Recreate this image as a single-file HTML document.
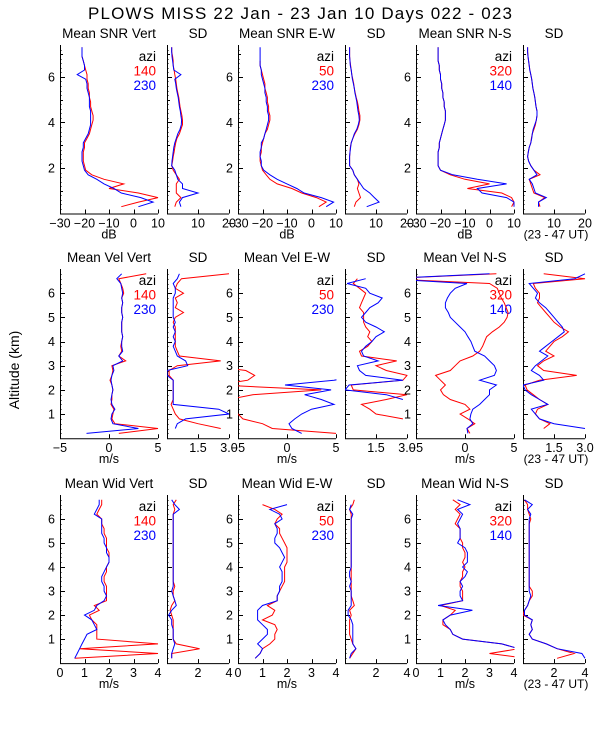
<!DOCTYPE html>
<html><head><meta charset="utf-8">
<style>
html,body{margin:0;padding:0;background:#fff;}
svg{display:block;font-family:"Liberation Sans",sans-serif;}
text{fill:#000;}
</style></head>
<body>
<svg id="c" width="600" height="750" viewBox="0 0 600 750">
<text x="88" y="19" font-size="17" textLength="424" lengthAdjust="spacing">PLOWS MISS  22 Jan - 23 Jan 10 Days 022 - 023</text>
<text transform="translate(19,370) rotate(-90)" font-size="14" text-anchor="middle">Altitude (km)</text>
</svg>
<script>
// altitude grids
const alt1 = [7.3,7.1,6.9,6.7,6.5,6.3,6.1,5.9,5.7,5.5,5.3,5.1,4.9,4.7,4.5,4.3,4.1,3.9,3.7,3.5,3.3,3.1,2.9,2.7,2.5,2.3,2.1,1.9,1.7,1.5,1.3,1.1,0.9,0.7,0.5,0.3];
const alt23 = [6.8,6.6,6.4,6.2,6.0,5.8,5.6,5.4,5.2,5.0,4.8,4.6,4.4,4.2,4.0,3.8,3.6,3.4,3.2,3.0,2.8,2.6,2.4,2.2,2.0,1.8,1.6,1.4,1.2,1.0,0.8,0.6,0.4,0.2];
const N = NaN;
// row 1: SNR
const snrVertRed = [-21,-21,-21,-20.5,-20,-19.5,-19,-19,-18.5,-18.5,-18,-18,-17.5,-17.5,-17,-16.5,-16.5,-17,-17.5,-18,-19,-20,-20,-20.5,-20.5,-20.5,-20,-19.5,-17,-12,-4,-10,2,10,2,-5];
const snrVertBlue = [-21,-21,-21,-20.5,-20,-20,-23,-19.5,-19,-19,-18.5,-18,-18,-18,-17.5,-17.5,-17.5,-17.5,-18,-18.5,-19.5,-20.5,-20.5,-21,-21,-21,-20.5,-20,-18.5,-15,-12,-8,-5,3,8,2];
const snrVertSdRed = [1.5,1.5,1.8,2,2,2.3,2.5,2.8,3,3.2,3.5,3.8,4,4.2,4.5,4.8,5,5,4.5,4,3.2,2.8,2.5,2.3,2,1.8,1.5,2,3,4,3,3,3,4.5,3,2.5];
const snrVertSdBlue = [1.5,1.5,1.6,1.8,2,2.2,4.5,2.5,2.8,3,3.3,3.6,3.8,4,4.3,4.5,4.7,4.6,4.2,3.5,3,2.5,2.2,2,1.8,1.6,1.5,2.5,3,3.5,5,5,10,5,4,4.5];
const snrEwRed = [N,N,N,-21,-21,-20.5,-20,-19.5,-19,-19,-18.5,-18,-18,-17.5,-17.5,-17,-17,-17.5,-18,-19,-19.5,-20,-20.5,-20.5,-21,-21,-20.5,-20,-18.5,-17,-14,-8,-4,2,6,3];
const snrEwBlue = [-21,-21,-21,-21,-21,-20.5,-20.5,-20,-19.5,-19,-19,-18.5,-18.5,-18,-18,-17.5,-17.5,-18,-18.5,-19,-19.5,-20.5,-20.5,-21,-21,-20.5,-20.5,-19.5,-17,-14,-10,-6,-3,4,9,6];
const snrEwSdRed = [1.5,1.5,1.5,1.6,1.8,2,2.2,2.5,2.8,3,3.3,3.6,4,4.3,4.5,4.8,4.8,4.5,4,3.2,2.5,2,1.7,1.6,1.5,1.5,1.5,2.5,3,4,4.5,4,4.5,5,3.5,3];
const snrEwSdBlue = [1.5,1.5,1.5,1.6,1.7,2,2.2,2.4,2.7,3,3.2,3.5,3.8,4,4.2,4.5,4.6,4.3,3.8,3,2.5,2,1.8,1.6,1.5,1.5,1.5,2.5,3,4,5,6,8,9.5,11,7];
const snrNsRed = [-21,-21,-21,-21,-20.5,-20.5,-20,-20,-19.5,-19.5,-19,-19,-18.5,-18.5,-18,-18,-18,-18.5,-19,-19.5,-20,-20.5,-20.5,-21,-21,-21,-21,-20,-16,-10,0,-9,5,9,10,9];
const snrNsBlue = [-21,-21,-21,-21,-20.5,-20.5,-20,-20,-19.5,-19.5,-19,-19,-18.5,-18.5,-18,-18,-18,-18.5,-19,-19.5,-20,-20.5,-20.5,-21,-21,-21,-21,-20,-15,-5,7,-5,-3,7,10,10];
const snrNsSdRed = [1.5,1.5,1.6,1.8,2,2.2,2.5,2.8,3,3.2,3.5,3.8,4,4.2,4.5,4.5,4.3,4,3.5,3,2.7,2.5,2,1.7,1.5,1.8,2.5,3.5,5.5,2,2.5,3,3.5,7,5,5.5];
const snrNsSdBlue = [1.5,1.5,1.6,1.8,2,2.2,2.5,2.8,3,3.2,3.5,3.8,4,4.2,4.5,4.5,4.3,3.8,3.3,3,2.8,2.5,2,1.7,1.5,1.8,2.5,3.5,4.5,2,3,3.5,4,7.5,5,5];
// row 2: velocity
const velVertRed = [3.8,1.0,1.2,1.4,1.5,1.3,1.4,1.3,1.3,1.4,1.3,1.3,1.3,1.4,1.3,1.2,1.3,1.0,1.7,0.3,0.4,0.3,0.1,0.3,0.4,0.3,0.3,0.2,0.5,0.4,0.3,0.6,5,1];
const velVertBlue = [1.3,0.8,1.2,1.3,1.4,1.3,1.4,1.3,1.3,1.4,1.3,1.3,1.3,1.4,1.3,1.3,1.4,1.0,1.4,0.4,0.5,0.3,0.2,0.3,0.4,0.3,0.2,0.3,0.6,0.3,0.2,0.4,3,-2.3];
const velVertSdRed = [3.0,0.7,0.5,0.4,0.8,0.4,0.5,0.4,0.8,0.4,0.3,0.4,0.4,0.4,0.4,0.4,0.5,0.6,2.6,0.5,0.1,0.1,0.3,0.3,0.3,0.3,0.3,0.2,0.3,0.4,0.6,1.5,2.6,N];
const velVertSdBlue = [0.6,0.5,0.3,0.4,0.4,0.3,0.3,0.3,0.3,0.3,0.4,0.3,0.4,0.3,0.4,0.3,0.4,0.5,0.9,1.0,0.0,0.0,0.3,0.3,0.3,0.3,0.3,0.3,2.5,3.0,0.9,0.5,0.4,N];
const velEwRed = [-8,-8,-8,-8,-8,-8,-8,-8,-8,-8,-8,-8,-8,-8,-8,-8,-8,-8,-8,-8,-4.2,-3.3,-4,-7,3.5,-3.5,-6,-8,-8,-5,-4.5,-2.5,-1.5,5];
const velEwBlue = [8,8,8,8,8,8,8,8,8,8,8,8,8,8,8,8,8,8,8,8,8,8,4.8,-0.2,4.5,1.8,3.5,4.8,2.5,1.5,0.8,0.2,0.5,1.5];
const velEwSdRed = [N,0.6,0.4,0.7,1.0,0.9,0.8,0.7,0.9,0.9,0.9,1.0,1.2,1.1,1.3,1.1,0.7,0.8,2.5,1.5,2.0,3.0,2.8,0.3,0.4,3.0,2.0,0.8,1.2,1.5,2.8,N,N,N];
const velEwSdBlue = [N,1.0,0.1,1.0,1.2,1.8,1.6,1.2,1.0,0.8,1.0,1.5,1.9,1.5,1.3,1.0,0.8,0.9,1.6,0.6,0.7,1.0,2.8,0.2,0.0,2.0,2.8,N,N,N,N,N,N,N];
const velNsRed = [3.2,-8,2.5,3.3,3.5,3.7,4,4.2,4.4,4.3,4,3.5,2.8,2.2,2.0,1.8,1.5,0.8,-0.5,-1,-1.5,-3,-2.5,-2,-2.5,-2.2,-1.5,0,0.5,-0.5,0.3,1.0,0.2,0.5];
const velNsBlue = [2.5,-8,0.2,-1.0,-1.5,-1.8,-2.0,-2.0,-1.7,-1.5,-1.0,-0.5,0,0.3,0.6,0.8,1.0,2.0,2.5,3.0,3.2,3.0,1.5,3.2,2.5,2.5,2.0,1.5,0.8,0.6,0.5,0.8,0.2,0.3];
const velNsSdRed = [1.0,3.0,0.5,0.6,0.8,0.8,0.7,0.9,1.1,1.3,1.5,1.8,2.2,1.9,1.5,1.3,1.1,1.5,1.0,0.7,1.0,2.6,0.8,0.1,0.2,0.5,0.8,1.2,0.7,0.6,0.8,1.3,1.0,N];
const velNsSdBlue = [3.0,2.5,0.3,0.5,0.7,0.6,0.8,1.1,1.3,1.5,1.7,1.9,2.0,1.7,1.4,1.1,0.8,1.2,0.9,0.6,0.4,0.8,1.0,0.0,0.1,0.4,0.8,1.2,0.4,0.6,0.8,1.5,3.0,N];
// row 3: width
const widVertRed = [1.7,1.7,1.6,1.5,1.7,1.7,1.8,1.8,1.9,1.9,1.9,2.0,2.0,2.0,1.9,1.9,1.8,1.8,1.9,1.9,1.9,1.9,1.4,1.6,1.2,1.3,1.5,1.5,1.5,1.5,4,0.8,4,0.6];
const widVertBlue = [1.6,1.6,1.5,1.4,1.7,1.7,1.7,1.7,1.8,1.8,1.9,1.9,2.0,2.0,1.9,1.8,1.7,1.7,1.8,1.8,1.9,1.8,1.5,1.4,1.0,1.3,1.4,1.5,1.1,1.0,0.9,0.8,0.7,0.6];
const widVertSdRed = [0.6,0.4,0.5,0.4,0.4,0.4,0.4,0.4,0.4,0.4,0.4,0.4,0.4,0.4,0.4,0.4,0.4,0.4,0.5,0.4,0.4,0.5,0.3,0.2,0.3,0.4,0.4,0.4,0.4,0.4,0.6,2.1,0.3,0.3];
const widVertSdBlue = [0.3,0.5,0.8,0.4,0.4,0.4,0.4,0.4,0.4,0.4,0.4,0.4,0.4,0.4,0.4,0.4,0.4,0.4,0.4,0.3,0.4,0.5,0.6,0.3,0.1,0.3,0.3,0.4,0.4,0.4,0.5,0.4,0.3,0.3];
const widEwRed = [N,1.0,1.5,1.8,1.6,1.5,1.7,1.7,1.8,1.9,2.0,2.0,2.0,2.0,1.9,1.9,1.9,1.9,1.8,1.7,1.6,1.6,1.2,1.5,1.4,1.0,1.5,1.6,1.5,1.5,1.3,1.0,0.9,0.7];
const widEwBlue = [N,2.0,1.3,1.7,1.8,1.5,1.6,1.6,1.5,1.5,1.7,1.8,1.9,1.8,1.7,1.8,1.8,1.8,1.7,1.7,1.6,1.6,1.0,0.8,0.8,0.8,1.0,1.2,1.2,1.0,0.8,1.0,0.9,0.7];
const widEwSdRed = [0.6,0.5,0.3,0.4,0.4,0.4,0.4,0.4,0.4,0.4,0.4,0.4,0.4,0.4,0.4,0.4,0.4,0.4,0.4,0.4,0.4,0.5,0.6,0.3,0.4,0.3,0.3,0.3,0.3,0.4,0.5,0.7,0.5,0.3];
const widEwSdBlue = [N,0.4,0.3,0.5,0.4,0.4,0.4,0.4,0.4,0.4,0.4,0.4,0.4,0.4,0.4,0.3,0.3,0.4,0.3,0.4,0.4,0.4,0.4,0.2,0.2,0.4,0.5,0.5,0.5,0.5,0.5,0.7,0.4,0.3];
const widNsRed = [1.5,1.8,1.6,1.8,1.7,1.6,1.8,1.8,1.8,1.9,1.9,2.0,2.0,1.9,2.0,1.9,1.9,1.8,1.8,1.9,1.9,1.9,1.0,1.6,1.4,1.1,1.1,1.4,1.5,1.9,3.5,4.2,3.0,4.5];
const widNsBlue = [1.7,2.2,1.7,1.9,1.8,1.7,1.8,1.8,1.8,1.7,2.0,2.1,2.1,2.1,1.9,2.1,2.0,1.8,1.9,1.8,1.8,1.9,0.9,2.3,1.4,1.1,1.2,1.4,1.5,1.9,3.5,4.2,4.5,4.2];
const widNsSdRed = [0.1,0.3,0.3,0.4,0.5,0.4,0.4,0.4,0.4,0.4,0.4,0.4,0.4,0.4,0.4,0.4,0.4,0.4,0.4,0.6,0.6,0.4,0.3,0.1,0.0,0.6,0.5,0.6,0.4,0.6,1.5,2.2,3.3,2.2];
const widNsSdBlue = [0.1,0.6,0.3,0.5,0.4,0.4,0.4,0.4,0.4,0.4,0.4,0.4,0.4,0.4,0.4,0.4,0.4,0.4,0.4,0.4,0.5,0.4,0.3,0.1,0.1,0.6,0.5,0.6,0.4,0.6,1.5,2.2,3.8,4.0];
// titles / ticks
const row1Titles = ["Mean SNR Vert","SD","Mean SNR E-W","SD","Mean SNR N-S","SD"];
const row2Titles = ["Mean Vel Vert","SD","Mean Vel E-W","SD","Mean Vel N-S","SD"];
const row3Titles = ["Mean Wid Vert","SD","Mean Wid E-W","SD","Mean Wid N-S","SD"];
const snrTicks = [-30,-20,-10,0,10];
const snrSdTicks = [10,20];
const velTicks = [-5,0,5];
const velSdTicks = [1.5,3.0];
const widTicks = [0,1,2,3,4];
const widSdTicks = [2,4];
const azi = [["140","230"],["50","230"],["320","140"]];

const svg = document.getElementById('c');
const NS = 'http://www.w3.org/2000/svg';
const cols = [[60,158],[167,229],[238,336],[345,407],[416,514],[523,585]];
const rows = [
  {top:45,bot:213.5,amax:7.4,yt:[2,4,6],minor:[1,3,5,7],alts:alt1,titles:row1Titles,key:'snr',
   xr:[[-30,10],[0,20]],xt:[snrTicks,snrSdTicks],unit:'dB',
   series:[[snrVertRed,snrVertBlue],[snrVertSdRed,snrVertSdBlue],[snrEwRed,snrEwBlue],[snrEwSdRed,snrEwSdBlue],[snrNsRed,snrNsBlue],[snrNsSdRed,snrNsSdBlue]]},
  {top:269,bot:438.2,amax:7.0,yt:[1,2,3,4,5,6],minor:[],alts:alt23,titles:row2Titles,key:'vel',
   xr:[[-5,5],[0,3]],xt:[velTicks,velSdTicks],unit:'m/s',
   series:[[velVertRed,velVertBlue],[velVertSdRed,velVertSdBlue],[velEwRed,velEwBlue],[velEwSdRed,velEwSdBlue],[velNsRed,velNsBlue],[velNsSdRed,velNsSdBlue]]},
  {top:495,bot:663.1,amax:7.0,yt:[1,2,3,4,5,6],minor:[],alts:alt23,titles:row3Titles,key:'wid',
   xr:[[0,4],[0,4]],xt:[widTicks,widSdTicks],unit:'m/s',
   series:[[widVertRed,widVertBlue],[widVertSdRed,widVertSdBlue],[widEwRed,widEwBlue],[widEwSdRed,widEwSdBlue],[widNsRed,widNsBlue],[widNsSdRed,widNsSdBlue]]}
];
function mk(tag, attrs, txt){
  const e=document.createElementNS(NS,tag);
  for(const k in attrs) e.setAttribute(k,attrs[k]);
  if(txt!==undefined) e.textContent=txt;
  svg.appendChild(e); return e;
}
const defs=mk('defs',{});
rows.forEach((r,ri)=>{
  const yS=a=>r.bot-(a/r.amax)*(r.bot-r.top);
  cols.forEach((c,ci)=>{
    const isSd=ci%2===1;
    const [v0,v1]=r.xr[isSd?1:0];
    const xS=v=>c[0]+(v-v0)/(v1-v0)*(c[1]-c[0]);
    const pid=`clip-${ri}-${ci}`;
    const cp=document.createElementNS(NS,'clipPath'); cp.setAttribute('id',pid);
    const cr=document.createElementNS(NS,'rect');
    cr.setAttribute('x',c[0]); cr.setAttribute('y',r.top-2); cr.setAttribute('width',c[1]-c[0]+0.5); cr.setAttribute('height',r.bot-r.top+2);
    cp.appendChild(cr); defs.appendChild(cp);
    const t=mk('text',{x:(c[0]+c[1])/2,y:r.top-7,'font-size':13.5,'text-anchor':'middle'},r.titles[ci]);
    
    
    const ax=mk('path',{d:`M${c[0]+0.5},${r.top} V${r.bot+0.5} H${c[1]}`,stroke:'#000','stroke-width':1,fill:'none'});
    
    
    let d='';
    r.yt.forEach(a=>{const y=Math.round(yS(a))+0.5; d+=`M${c[0]},${y}h5`;});
    r.minor.forEach(a=>{const y=Math.round(yS(a))+0.5; d+=`M${c[0]},${y}h3`;});
    for(let a=0.2;a<r.amax;a+=0.2){const y=Math.round(yS(a))+0.5; d+=`M${c[0]},${y}h1.5`;}
    r.xt[isSd?1:0].forEach(v=>{const x=Math.round(xS(v))+0.5; d+=`M${x},${r.bot}v-4`;});
    const tk=mk('path',{d:d,stroke:'#000','stroke-width':1,fill:'none'});
    
    
    if(!isSd){
      r.yt.forEach(a=>{
        const l=mk('text',{x:c[0]-5,y:yS(a)+4.5,'font-size':12.5,'text-anchor':'end'},String(a));
        
        
      });
      const u=mk('text',{x:(c[0]+c[1])/2,y:r.bot+25,'font-size':12.5,'text-anchor':'middle'},r.unit);
      
      
      const lg=[['azi','#000'],[azi[ci/2][0],'#ff0000'],[azi[ci/2][1],'#0000ff']];
      lg.forEach((p,i)=>{
        const e=mk('text',{x:c[1]-2,y:r.top+16+i*14.5,'font-size':13.5,'text-anchor':'end',fill:p[1],style:'fill:'+p[1]},p[0]);
        
        
      });
    }
    r.xt[isSd?1:0].forEach(v=>{
      let s = r.key==='vel' && isSd ? v.toFixed(1) : String(v).replace('-','\u2212');
      const l=mk('text',{x:xS(v),y:r.bot+14,'font-size':12.5,'text-anchor':'middle'},s);
      
      
    });
    if(ci===5){
      const ut=mk('text',{x:556,y:r.bot+25,'font-size':12,'text-anchor':'middle'},'(23 - 47 UT)');
      
      
    }
    const colors=['#ff0000','#0000ff'];
    r.series[ci].forEach((vals,si)=>{
      let pd='',pen=false;
      vals.forEach((v,i)=>{
        if(isNaN(v)){pen=false;return;}
        pd+=(pen?'L':'M')+xS(v).toFixed(1)+','+yS(r.alts[i]).toFixed(1);
        pen=true;
      });
      const p=mk('path',{d:pd,stroke:colors[si],'stroke-width':1,fill:'none','clip-path':`url(#${pid})`});
      
      
    });
  });
});
</script>
</body></html>
